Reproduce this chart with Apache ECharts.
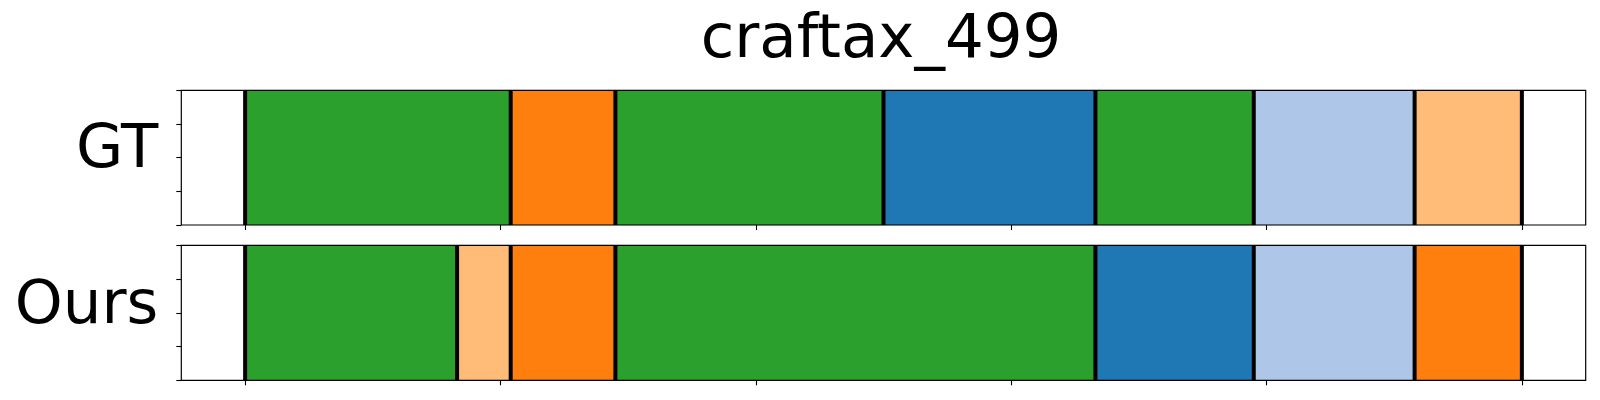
<!DOCTYPE html>
<html>
<head>
<meta charset="utf-8">
<script src="https://cdn.jsdelivr.net/npm/echarts@6/dist/echarts.min.js"></script>
<style>html,body{margin:0;padding:0;background:#fff;}#c{width:1600px;height:400px;}</style>
</head>
<body>
<div id="c"></div>
<script>
// ---- data ----
const title = 'craftax_499';
const rowNames = ['GT', 'Ours'];
const gtStarts = [0, 104, 145, 250, 333, 395, 458];
const gtEnds   = [104, 145, 250, 333, 395, 458, 500];
const gtLabels = ['green', 'orange', 'green', 'blue', 'green', 'lightblue', 'lightorange'];
const oursStarts = [0, 83, 104, 145, 333, 395, 458];
const oursEnds   = [83, 104, 145, 333, 395, 458, 500];
const oursLabels = ['green', 'lightorange', 'orange', 'green', 'blue', 'lightblue', 'orange'];
const xTicks = [0, 100, 200, 300, 400, 500];
const xMin = -25, xMax = 525;

const palette = {
  blue: '#1f77b4', lightblue: '#aec7e8', orange: '#ff7f0e',
  lightorange: '#ffbb78', green: '#2ca02c'
};

const FONT = 'DejaVu Sans';

function segSeries(idx, starts, ends, labels) {
  return {
    type: 'custom', xAxisIndex: idx, yAxisIndex: idx, z: 2,
    data: starts.map((s, i) => [s, ends[i]]),
    renderItem: function (params, api) {
      const p0 = api.coord([api.value(0), 1]);
      const p1 = api.coord([api.value(1), 0]);
      return {
        type: 'rect',
        shape: { x: p0[0], y: p0[1], width: p1[0] - p0[0], height: p1[1] - p0[1] },
        style: { fill: palette[labels[params.dataIndex]], stroke: 'rgba(0,0,0,0.12)', lineWidth: 1 }
      };
    }
  };
}
function boundarySeries(idx, starts, ends) {
  const b = starts.concat([ends[ends.length - 1]]);
  return {
    type: 'custom', xAxisIndex: idx, yAxisIndex: idx, z: 3,
    data: b.map(v => [v]),
    renderItem: function (params, api) {
      const p0 = api.coord([api.value(0), 1]);
      const p1 = api.coord([api.value(0), 0]);
      return {
        type: 'line',
        shape: { x1: p0[0], y1: p0[1], x2: p1[0], y2: p1[1] },
        style: { stroke: '#000', lineWidth: 4 }
      };
    }
  };
}

const grids = [
  { left: 181.3, right: 14.3, top: 90.3, height: 134.7 },
  { left: 181.3, right: 14.3, top: 245.3, height: 135 }
].map(g => Object.assign(g, { show: true, z: 10, borderColor: '#000', borderWidth: 1.2, backgroundColor: 'transparent', containLabel: false }));

const xAxes = [0, 1].map(i => ({
  type: 'value', gridIndex: i, min: xMin, max: xMax,
  axisLine: { show: false, onZero: false },
  axisTick: { show: true, customValues: xTicks, length: 5, lineStyle: { color: '#000', width: 1.1 } },
  axisLabel: { show: false, customValues: xTicks },
  splitLine: { show: false }
}));
const yAxes = [0, 1].map(i => ({
  type: 'value', gridIndex: i, min: 0, max: 1, interval: 0.25, position: 'left',
  axisLine: { show: false, onZero: false },
  axisTick: { show: true, length: 5, lineStyle: { color: '#000', width: 1.1 } },
  axisLabel: { show: false },
  splitLine: { show: false }
}));

const chart = echarts.init(document.getElementById('c'), null, { renderer: 'canvas' });
chart.setOption({
  animation: false,
  backgroundColor: '#fff',
  grid: grids,
  xAxis: xAxes,
  yAxis: yAxes,
  series: [
    segSeries(0, gtStarts, gtEnds, gtLabels),
    boundarySeries(0, gtStarts, gtEnds),
    segSeries(1, oursStarts, oursEnds, oursLabels),
    boundarySeries(1, oursStarts, oursEnds)
  ],
  graphic: [
    { type: 'text', x: 881, y: 41, style: { text: title, font: '61px "' + FONT + '"', fill: '#000', align: 'center', verticalAlign: 'middle' } },
    { type: 'text', x: 158.3, y: 151, style: { text: rowNames[0], font: '61px "' + FONT + '"', fill: '#000', align: 'right', verticalAlign: 'middle' } },
    { type: 'text', x: 158.3, y: 306.7, style: { text: rowNames[1], font: '61px "' + FONT + '"', fill: '#000', align: 'right', verticalAlign: 'middle' } }
  ]
});
</script>
</body>
</html>
